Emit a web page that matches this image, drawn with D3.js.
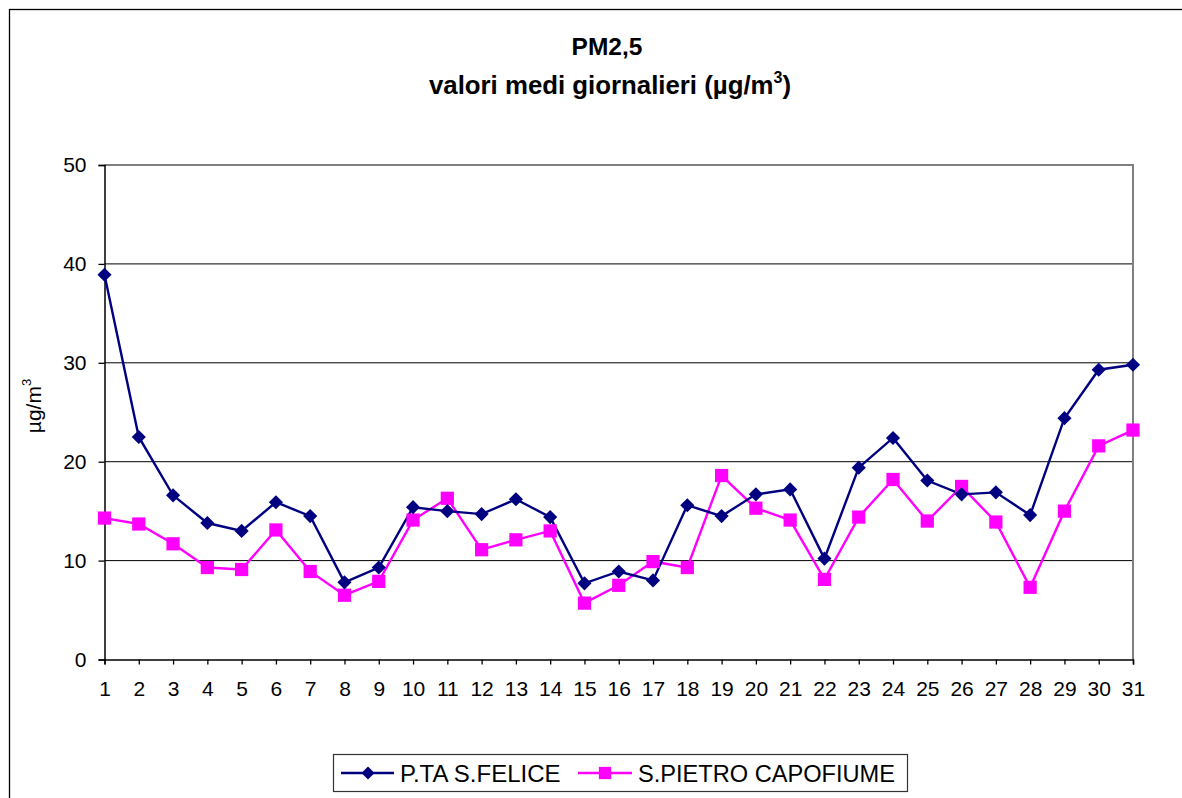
<!DOCTYPE html>
<html>
<head>
<meta charset="utf-8">
<script src="https://cdn.jsdelivr.net/npm/d3@7"></script>
<style>
  html, body { margin: 0; padding: 0; background: #fff; }
  svg { display: block; font-family: "Liberation Sans", Arial, sans-serif; }
</style>
</head>
<body>
<svg id="chart" width="1182" height="798"></svg>
<script>
// ---- data ----
const days = [1,2,3,4,5,6,7,8,9,10,11,12,13,14,15,16,17,18,19,20,21,22,23,24,25,26,27,28,29,30,31];
const seriesNames = ["P.TA S.FELICE", "S.PIETRO CAPOFIUME"];
const sFelice = [38.9,22.5,16.6,13.8,13.0,15.9,14.5,7.8,9.3,15.4,15.0,14.7,16.2,14.4,7.7,8.9,8.0,15.6,14.5,16.7,17.2,10.2,19.4,22.4,18.1,16.7,16.9,14.6,24.4,29.3,29.8];
const sPietro = [14.3,13.7,11.7,9.3,9.1,13.1,8.9,6.5,7.9,14.1,16.3,11.1,12.1,13.0,5.7,7.5,9.9,9.3,18.6,15.3,14.1,8.1,14.4,18.2,14.0,17.5,13.9,7.3,15.0,21.6,23.2];
const yTicks = [0,10,20,30,40,50];
const titleLine1 = "PM2,5";
const titleLine2 = "valori medi giornalieri (µg/m";
const yLabel = "µg/m";

// ---- layout ----
const svg = d3.select("#chart");
const pLeft = 104.5, pRight = 1133, pTop = 165, pBottom = 659.5;

const x = d3.scalePoint().domain(days).range([pLeft, pRight]);
const y = d3.scaleLinear().domain([0, 50]).range([pBottom, pTop]);

// outer chart border (extends past the picture at right/bottom)
svg.append("rect")
  .attr("x", 9.5).attr("y", 9.5).attr("width", 1220).attr("height", 820)
  .attr("fill", "#fff").attr("stroke", "#000").attr("stroke-width", 1.3);

// title
const title = svg.append("g").attr("font-weight", "bold").attr("text-anchor", "middle").attr("fill", "#000");
title.append("text").attr("x", 607).attr("y", 55).attr("font-size", 24.5).text(titleLine1);
const t2 = title.append("text").attr("x", 610).attr("y", 94).attr("font-size", 25.8);
t2.append("tspan").text(titleLine2);
t2.append("tspan").attr("font-size", 16).attr("dy", -11).text("3");
t2.append("tspan").attr("dy", 11).text(")");

// gridlines
svg.append("g").selectAll("line").data(yTicks.filter(d => d > 0 && d < 50)).join("line")
  .attr("x1", pLeft).attr("x2", pRight)
  .attr("y1", d => y(d)).attr("y2", d => y(d))
  .attr("stroke", "#000").attr("stroke-width", 1);

// plot area border top/right (gray)
svg.append("path")
  .attr("d", `M${pLeft},${y(50)}H${pRight}V${pBottom}`)
  .attr("fill", "none").attr("stroke", "#808080").attr("stroke-width", 2);

// y axis
const yAxis = svg.append("g").attr("transform", `translate(${pLeft},0)`)
  .call(d3.axisLeft(y).tickValues(yTicks).tickSize(6).tickPadding(12).tickFormat(d3.format("d")));
yAxis.select(".domain").attr("stroke", "#000").attr("stroke-width", 1.5);
yAxis.selectAll(".tick line").attr("stroke", "#000").attr("stroke-width", 1.3);
yAxis.selectAll("text").attr("font-size", 21).attr("fill", "#000").attr("font-family", "Liberation Sans, Arial, sans-serif");

// x axis
const xAxis = svg.append("g").attr("transform", `translate(0,${pBottom})`)
  .call(d3.axisBottom(x).tickSize(5).tickPadding(17));
xAxis.select(".domain").attr("stroke", "#000").attr("stroke-width", 1.5);
xAxis.selectAll(".tick line").attr("stroke", "#000").attr("stroke-width", 1.3);
xAxis.selectAll("text").attr("font-size", 21).attr("fill", "#000").attr("font-family", "Liberation Sans, Arial, sans-serif");

// y label
const yl = svg.append("text")
  .attr("transform", "translate(41,406) rotate(-90)")
  .attr("text-anchor", "middle").attr("font-size", 21).attr("fill", "#000");
yl.append("tspan").text(yLabel);
yl.append("tspan").attr("font-size", 13).attr("dy", -10).text("3");

// lines
const line = d3.line().x((d, i) => x(days[i])).y(d => y(d));
const navy = "#000080", magenta = "#FF00FF";

svg.append("path").datum(sPietro).attr("d", line)
  .attr("fill", "none").attr("stroke", magenta).attr("stroke-width", 2.4);
svg.append("path").datum(sFelice).attr("d", line)
  .attr("fill", "none").attr("stroke", navy).attr("stroke-width", 2.4);

const diamond = d3.symbol().type(d3.symbolSquare).size(100);
const square = d3.symbol().type(d3.symbolSquare).size(175);

svg.append("g").selectAll("path").data(sPietro).join("path")
  .attr("transform", (d, i) => `translate(${x(days[i])},${y(d)})`)
  .attr("d", square).attr("fill", magenta);
svg.append("g").selectAll("path").data(sFelice).join("path")
  .attr("transform", (d, i) => `translate(${x(days[i])},${y(d)}) rotate(45)`)
  .attr("d", diamond).attr("fill", navy);

// legend
const lg = svg.append("g");
lg.append("rect").attr("x", 333.5).attr("y", 754.5).attr("width", 574).attr("height", 37)
  .attr("fill", "#fff").attr("stroke", "#333").attr("stroke-width", 1.2);
const ly = 773;
lg.append("line").attr("x1", 341).attr("x2", 394).attr("y1", ly).attr("y2", ly)
  .attr("stroke", navy).attr("stroke-width", 2.4);
lg.append("path").attr("transform", `translate(368,${ly}) rotate(45)`)
  .attr("d", d3.symbol().type(d3.symbolSquare).size(85)).attr("fill", navy);
lg.append("text").attr("x", 400).attr("y", 782).attr("font-size", 24).attr("fill", "#000").text(seriesNames[0]);
lg.append("line").attr("x1", 578).attr("x2", 632).attr("y1", ly).attr("y2", ly)
  .attr("stroke", magenta).attr("stroke-width", 2.4);
lg.append("path").attr("transform", `translate(605,${ly})`)
  .attr("d", d3.symbol().type(d3.symbolSquare).size(150)).attr("fill", magenta);
lg.append("text").attr("x", 638).attr("y", 782).attr("font-size", 23.6).attr("fill", "#000").text(seriesNames[1]);
</script>
</body>
</html>
